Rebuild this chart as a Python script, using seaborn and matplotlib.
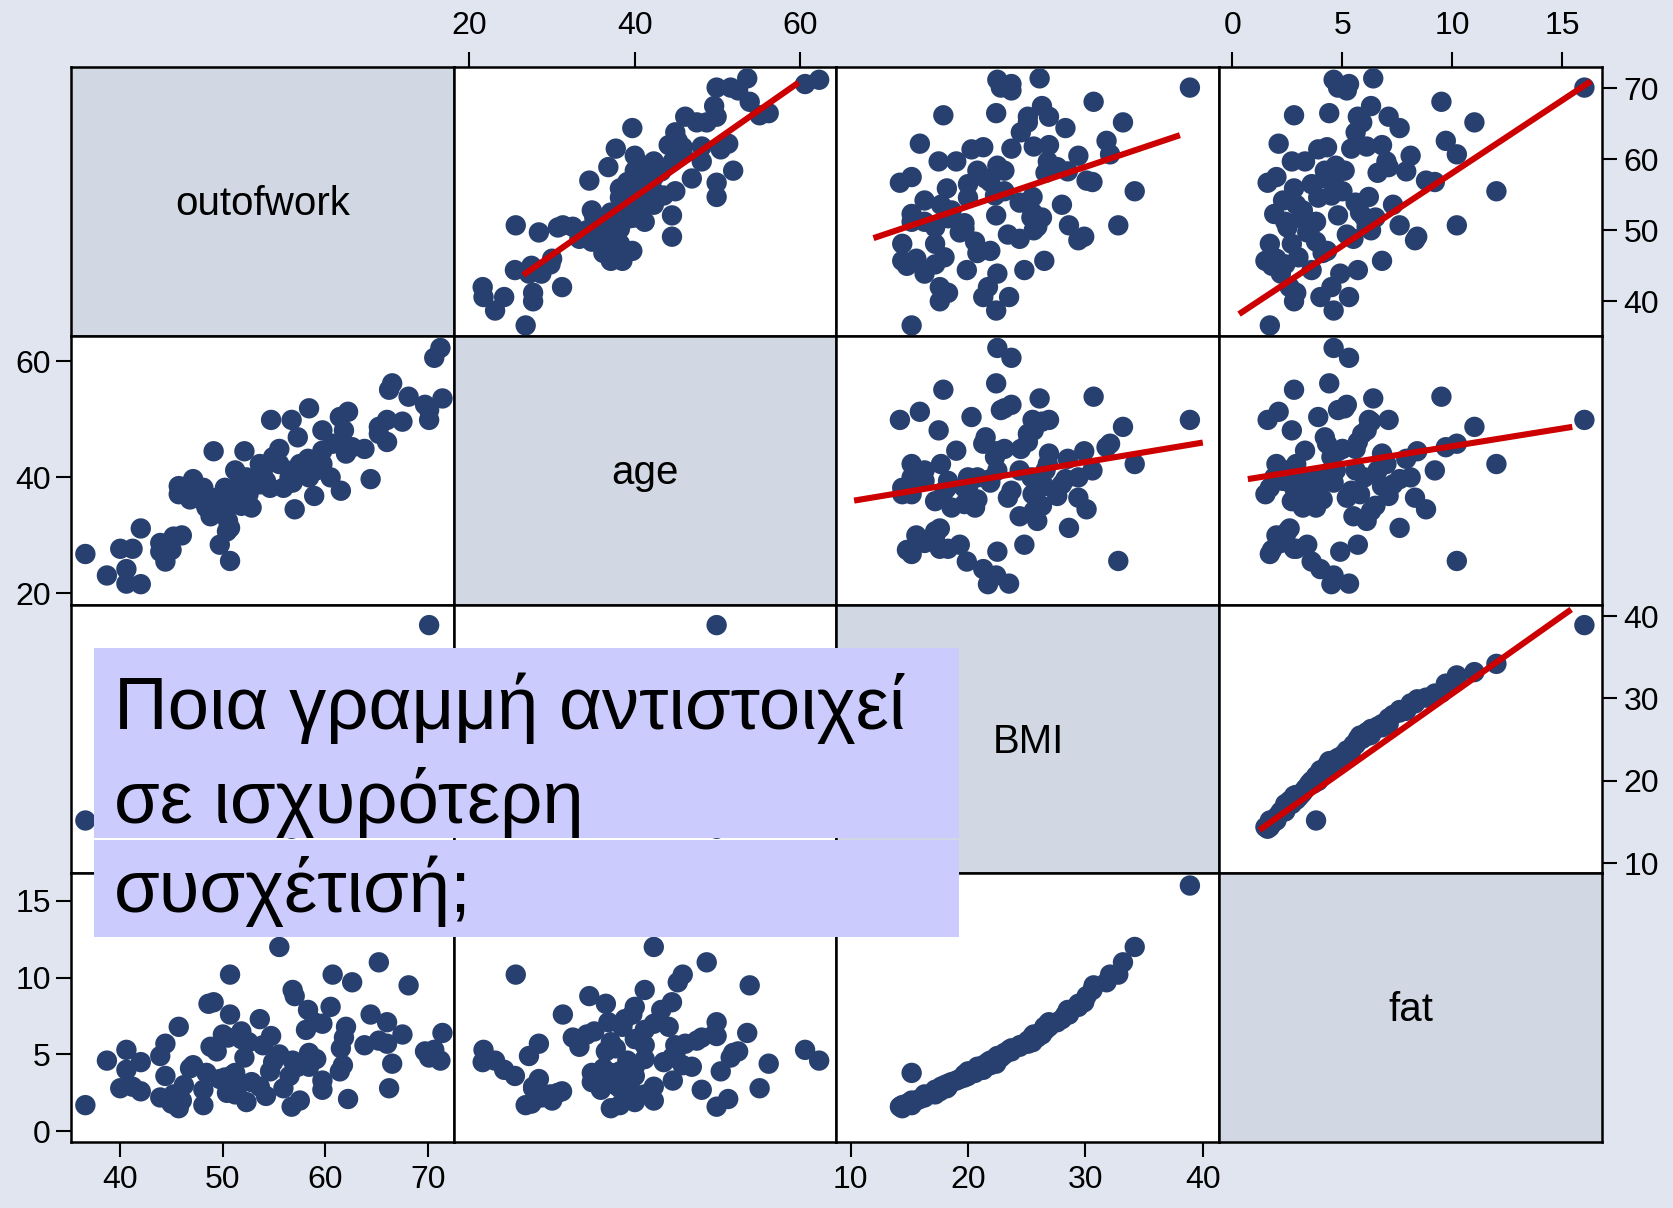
import numpy as np
import pandas as pd
import matplotlib
matplotlib.use("Agg")
import matplotlib.pyplot as plt
from matplotlib import font_manager
import seaborn as sns
from matplotlib.patches import Rectangle

# ---------------- data ----------------
outofwork = [36.6, 38.7, 40.0, 40.6, 40.6, 41.2, 42.0, 42.0, 43.9, 43.9,
             44.4, 44.4, 45.0, 45.2, 45.7, 45.7, 46.0, 46.2, 46.8, 47.1,
             48.1, 48.1, 48.4, 48.6, 48.8, 49.1, 49.4, 49.7, 50.0, 50.2,
             50.4, 50.5, 50.7, 50.7, 51.0, 51.2, 51.2, 51.7, 51.8, 51.8,
             52.1, 52.3, 52.5, 52.8, 53.6, 53.6, 53.9, 54.2, 54.6, 54.7,
             54.9, 55.5, 55.5, 55.9, 56.5, 56.7, 56.8, 56.8, 57.0, 57.3,
             57.5, 58.1, 58.3, 58.4, 58.4, 58.9, 59.1, 59.7, 59.7, 59.7,
             60.5, 60.7, 61.4, 61.5, 61.7, 61.8, 62.0, 62.2, 62.6, 63.8,
             64.4, 65.2, 65.2, 66.0, 66.0, 66.2, 66.5, 67.5, 68.1, 69.7,
             70.1, 70.1, 70.6, 71.2, 71.4]
age = [26.8, 23.1, 27.7, 24.2, 21.7, 27.7, 21.6, 31.2, 28.7, 27.2,
       25.5, 28.4, 27.5, 29.8, 38.5, 37.1, 30.0, 37.7, 36.2, 39.7,
       38.2, 35.9, 34.8, 36.5, 33.3, 44.5, 36.5, 28.4, 34.2, 38.2,
       30.7, 32.5, 25.6, 31.3, 35.4, 41.2, 37.1, 39.4, 35.1, 40.0,
       44.5, 40.0, 37.1, 34.8, 42.3, 38.8, 41.2, 39.4, 38.2, 49.9,
       43.5, 44.9, 42.3, 38.2, 40.0, 49.9, 41.2, 39.1, 34.5, 46.9,
       42.3, 41.2, 43.2, 51.9, 40.0, 36.8, 41.2, 48.1, 44.6, 42.3,
       40.0, 45.8, 50.4, 37.7, 45.8, 48.1, 44.1, 51.3, 45.2, 44.9,
       39.7, 47.5, 48.7, 49.9, 46.1, 55.1, 56.2, 49.6, 53.9, 52.5,
       49.9, 51.6, 60.6, 62.3, 53.6]
bmi = [15.2, 22.4, 17.6, 21.3, 23.5, 18.3, 21.7, 17.6, 16.3, 22.5,
       19.9, 24.8, 14.8, 17.2, 26.5, 14.4, 15.6, 18.0, 20.8, 21.9,
       14.4, 17.2, 20.6, 29.4, 24.4, 29.9, 23.4, 19.3, 25.6, 19.7,
       17.2, 25.9, 32.8, 28.6, 19.7, 16.3, 15.2, 18.3, 26.3, 25.4,
       22.4, 15.2, 25.5, 18.6, 17.7, 28.0, 24.4, 16.3, 20.0, 25.5,
       22.3, 23.1, 34.2, 18.2, 20.0, 14.2, 30.6, 21.9, 30.1, 21.5,
       15.2, 26.6, 28.5, 23.1, 20.8, 27.6, 22.5, 17.5, 19.0, 26.8,
       29.4, 32.1, 20.3, 23.7, 21.3, 25.6, 26.9, 15.9, 31.8, 24.5,
       28.3, 25.1, 33.2, 26.9, 25.1, 17.9, 22.4, 26.3, 30.7, 23.7,
       38.9, 22.8, 23.7, 22.5, 26.1]
fat = [1.7, 4.6, 2.8, 4.0, 5.3, 2.9, 4.5, 2.6, 2.2, 4.9,
       3.6, 5.7, 1.8, 2.4, 6.8, 1.5, 2.0, 3.0, 4.1, 4.3,
       1.7, 2.7, 3.8, 8.3, 5.5, 8.4, 5.2, 3.4, 6.3, 3.5,
       2.5, 6.1, 10.2, 7.6, 3.7, 2.4, 3.8, 3.1, 6.5, 6.0,
       4.8, 1.9, 5.8, 3.2, 2.9, 7.3, 5.6, 2.3, 3.9, 6.2,
       4.5, 5.0, 12.0, 2.8, 3.6, 1.6, 9.2, 4.6, 8.8, 4.2,
       2.0, 6.6, 7.9, 5.1, 4.2, 7.1, 4.7, 2.7, 3.3, 7.0,
       8.1, 10.2, 3.9, 5.4, 4.3, 6.1, 6.8, 2.1, 9.7, 5.6,
       7.6, 5.9, 11.0, 7.1, 5.7, 2.8, 4.4, 6.3, 9.5, 5.2,
       16.0, 4.8, 5.3, 4.6, 6.4]

var_names = ["outofwork", "age", "BMI", "fat"]
outofwork_ticks = [40, 50, 60, 70]
age_ticks = [20, 40, 60]
bmi_ticks = [10, 20, 30, 40]
fat_ticks = [0, 5, 10, 15]

# red lines drawn in the upper panels (x variable, y variable, end points)
line_x_var = ["age", "BMI", "fat", "BMI", "fat", "fat"]
line_y_var = ["outofwork", "outofwork", "outofwork", "age", "age", "BMI"]
line_x_start = [26.5, 11.95, 0.3, 10.3, 0.7, 1.23]
line_x_end = [59.8, 38.05, 16.3, 40.0, 15.45, 15.4]
line_y_start = [43.7, 48.9, 38.2, 36.0, 39.7, 14.05]
line_y_end = [70.8, 63.4, 71.0, 46.0, 48.7, 40.8]

question_lines = ["Ποια γραμμή αντιστοιχεί", "σε ισχυρότερη", "συσχέτισή;"]

df = pd.DataFrame({"outofwork": outofwork, "age": age, "BMI": bmi, "fat": fat})
ticks = {"outofwork": outofwork_ticks, "age": age_ticks, "BMI": bmi_ticks, "fat": fat_ticks}

# ---------------- styling / layout ----------------
BG = "#e0e5f0"
DIAG = "#d1d8e4"
NAVY = "#27406f"
RED = "#cc0000"
BOX = "#cccbfe"
xlimits = {"outofwork": (35.2, 72.5), "age": (18.1, 64.4),
           "BMI": (8.8, 41.4), "fat": (-0.6, 16.8)}
ylimits = {"outofwork": (35.15, 73.0), "age": (18.1, 64.4),
           "BMI": (8.8, 41.4), "fat": (-0.7, 16.8)}

sns.set_theme(style="white")
plt.rcParams["font.family"] = ["Liberation Sans", "DejaVu Sans"]

installed = {f.name for f in font_manager.fontManager.ttflist}
NARROW = "Liberation Sans Narrow" in installed

W, H = 1674, 1208
fig = plt.figure(figsize=(W / 100, H / 100), dpi=100, facecolor=BG)
axes = fig.subplots(4, 4, gridspec_kw=dict(left=71 / W, right=1602 / W,
                                           top=1 - 67 / H, bottom=1 - 1142 / H,
                                           wspace=0, hspace=0))
TICK_FS = 23
for i, yv in enumerate(var_names):
    for j, xv in enumerate(var_names):
        ax = axes[i, j]
        ax.set_facecolor("white")
        if i == j:
            ax.set_facecolor(DIAG)
            ax.text(0.5, 0.49, yv, transform=ax.transAxes, ha="center",
                    va="center", fontsize=29, color="black")
        else:
            sns.scatterplot(data=df, x=xv, y=yv, ax=ax, s=215, color=NAVY,
                            edgecolor="none", linewidth=0, zorder=3, legend=False)
        ax.set_xlim(xlimits[xv])
        ax.set_ylim(ylimits[yv])
        ax.set_xlabel("")
        ax.set_ylabel("")
        for sp in ax.spines.values():
            sp.set_visible(True)
            sp.set_color("black")
            sp.set_linewidth(1.8)
        ax.set_xticks([])
        ax.set_yticks([])
        ax.tick_params(axis="both", which="both", length=10.5, width=1.5,
                       color="black", labelsize=TICK_FS, labelcolor="black",
                       direction="out",
                       top=False, bottom=False, left=False, right=False,
                       labeltop=False, labelbottom=False,
                       labelleft=False, labelright=False)

# red lines in the upper triangle
for xv, yv, x0, x1, y0, y1 in zip(line_x_var, line_y_var, line_x_start,
                                  line_x_end, line_y_start, line_y_end):
    i, j = var_names.index(yv), var_names.index(xv)
    ax = axes[i, j]
    sns.lineplot(x=[x0, x1], y=[y0, y1], ax=ax, color=RED, lw=4.4, sort=False,
                 zorder=4, solid_capstyle="butt", legend=False)
    ax.set_xlabel("")
    ax.set_ylabel("")

# top axis: age (col 1), fat (col 3)
for j in (1, 3):
    ax = axes[0, j]
    ax.set_xticks(ticks[var_names[j]])
    ax.tick_params(axis="x", top=True, labeltop=True, pad=8)
# right axis: outofwork (row 0), BMI (row 2)
for i in (0, 2):
    ax = axes[i, 3]
    ax.set_yticks(ticks[var_names[i]])
    ax.tick_params(axis="y", right=True, labelright=True, pad=5)
# left axis: age (row 1), fat (row 3)
for i in (1, 3):
    ax = axes[i, 0]
    ax.set_yticks(ticks[var_names[i]])
    ax.tick_params(axis="y", left=True, labelleft=True, pad=4)
# bottom axis: outofwork (col 0), BMI (col 2)
for j in (0, 2):
    ax = axes[3, j]
    ax.set_xticks(ticks[var_names[j]])
    ax.tick_params(axis="x", bottom=True, labelbottom=True, pad=6)
    for lbl in ax.get_xticklabels():
        if NARROW:
            lbl.set_fontfamily(["Liberation Sans Narrow", "Liberation Sans"])
            lbl.set_fontsize(26)

# question overlay
fig.add_artist(Rectangle((94 / W, 1 - 838 / H), (959 - 94) / W, (838 - 648) / H,
                         transform=fig.transFigure, facecolor=BOX,
                         edgecolor="none", zorder=10))
fig.add_artist(Rectangle((94 / W, 1 - 937 / H), (959 - 94) / W, (937 - 840) / H,
                         transform=fig.transFigure, facecolor=BOX,
                         edgecolor="none", zorder=10))
for line, yb in zip(question_lines, (729, 823, 912)):
    fig.text(114 / W, 1 - yb / H, line, fontsize=53.5, color="black",
             va="baseline", ha="left", zorder=11)

fig.savefig("out.png", dpi=100, facecolor=BG)
